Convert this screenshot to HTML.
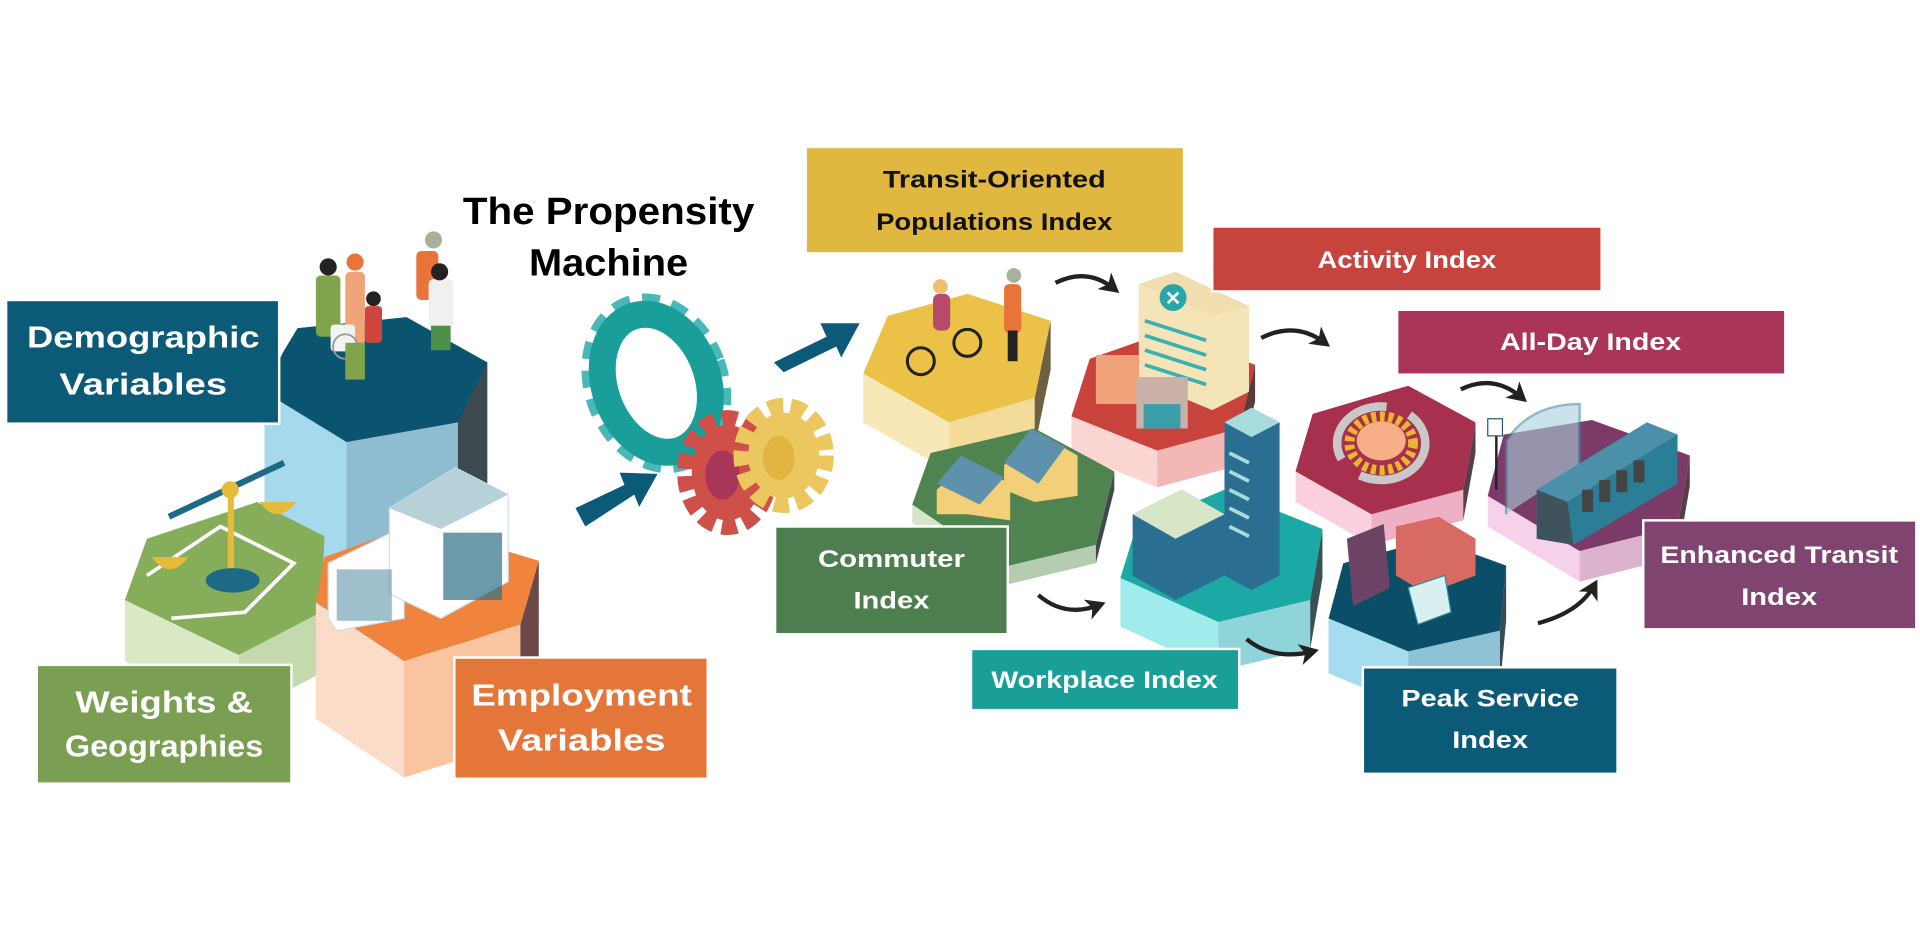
<!DOCTYPE html>
<html><head><meta charset="utf-8"><style>
html,body{margin:0;padding:0;background:#fff;width:1920px;height:933px;overflow:hidden}
svg{display:block}
text{font-family:"Liberation Sans",sans-serif;font-weight:bold}
.w{fill:#fff}
</style></head><body>
<svg width="1920" height="933" viewBox="0 0 1568 762" preserveAspectRatio="none" xmlns="http://www.w3.org/2000/svg">
<defs>
<marker id="ah" markerWidth="6" markerHeight="6" refX="3" refY="3" orient="auto" markerUnits="strokeWidth">
<path d="M0,0.5 L4.5,3 L0,5.5 L1.2,3 Z" fill="#222"/></marker>
</defs>

<!-- ===== LEFT GROUP ===== -->
<polygon points="216,288 283,300 283,530 216,520" fill="#a7d9ed"/>
<polygon points="283,300 374,300 374,530 283,530" fill="#8fbdd0"/>
<polygon points="374,300 398,296 398,520 374,530" fill="#3c4a50"/>
<polygon points="231,288 243,268 332,259 398,296 374,345 283,361 216,320" fill="#0b5470"/>
<!-- people -->
<rect x="258" y="225" width="20" height="50" rx="4" fill="#7fa44c"/>
<circle cx="268" cy="218" r="7" fill="#222"/>
<rect x="282" y="222" width="16" height="60" rx="4" fill="#f0a47a"/>
<circle cx="290" cy="214" r="7" fill="#e8743a"/>
<rect x="298" y="250" width="14" height="30" rx="3" fill="#cf443c"/>
<circle cx="305" cy="244" r="6" fill="#222"/>
<rect x="270" y="265" width="20" height="22" rx="3" fill="#f2f2f0"/>
<circle cx="282" cy="283" r="10" fill="none" stroke="#999" stroke-width="1.5"/>
<rect x="282" y="280" width="16" height="30" fill="#7fa44c"/>
<rect x="340" y="205" width="18" height="40" rx="4" fill="#e8743a"/>
<circle cx="354" cy="196" r="7" fill="#aab09a"/>
<rect x="350" y="228" width="20" height="40" rx="4" fill="#f0f0ee"/>
<circle cx="359" cy="222" r="7" fill="#222"/>
<rect x="352" y="266" width="16" height="20" fill="#4f8f4c"/>
<!-- Weights hex -->
<polygon points="102,490 195,535 195,585 102,540" fill="#d9e9c6"/>
<polygon points="195,535 262,500 262,550 195,585" fill="#c4d9ae"/>
<polygon points="102,490 120,440 210,410 265,438 262,500 195,535" fill="#85ad5a"/>
<path d="M120,470 L180,430 L240,460 L200,500 L140,505" fill="none" stroke="#fff" stroke-width="3"/>
<line x1="138" y1="422" x2="232" y2="378" stroke="#1d6a86" stroke-width="5"/>
<rect x="186" y="400" width="5" height="70" fill="#e6bb3c"/>
<circle cx="188" cy="400" r="7" fill="#e6bb3c"/>
<ellipse cx="190" cy="474" rx="22" ry="10" fill="#1d6a86"/>
<path d="M124,455 Q138,475 154,455 Z" fill="#e6bb3c"/>
<path d="M212,410 Q226,430 242,410 Z" fill="#e6bb3c"/>
<!-- Employment hex -->
<polygon points="258,492 330,540 330,635 258,587" fill="#fcdcc8"/>
<polygon points="330,540 425,510 425,605 330,635" fill="#fac4a0"/>
<polygon points="425,510 440,458 440,553 425,605" fill="#6b4a48"/>
<polygon points="258,492 265,455 340,428 440,458 425,510 330,540" fill="#f0843d"/>
<!-- office building -->
<polygon points="268,460 330,430 330,505 275,515 268,505" fill="#ffffff" stroke="#cfe0e6"/>
<polygon points="318,415 372,382 415,404 415,475 360,505 318,485" fill="#ffffff" stroke="#cfe0e6"/>
<polygon points="318,415 372,382 415,404 360,432" fill="#b7d1d9"/>
<rect x="362" y="435" width="48" height="55" fill="#2f6f87" opacity="0.7"/>
<rect x="275" y="465" width="45" height="42" fill="#5d94a8" opacity="0.6"/>

<!-- Title -->
<text x="497" y="183" font-size="31" text-anchor="middle" fill="#000" textLength="238" lengthAdjust="spacingAndGlyphs">The Propensity</text>
<text x="497" y="225" font-size="31" text-anchor="middle" fill="#000" textLength="130" lengthAdjust="spacingAndGlyphs">Machine</text>

<!-- Gears -->
<g transform="rotate(-20 536 313)">
<ellipse cx="536" cy="313" rx="50" ry="66" fill="none" stroke="#4ab8b8" stroke-width="18" stroke-dasharray="13 9"/>
<ellipse cx="536" cy="313" rx="42" ry="58" fill="none" stroke="#1a9e9a" stroke-width="22"/>
<ellipse cx="532" cy="313" rx="18" ry="36" fill="#fff"/>
</g>
<ellipse cx="594" cy="386" rx="34" ry="44" fill="none" stroke="#cf5048" stroke-width="14" stroke-dasharray="12 6"/>
<ellipse cx="594" cy="386" rx="29" ry="39" fill="#cf5048"/>
<ellipse cx="590" cy="388" rx="14" ry="20" fill="#a8365a"/>
<ellipse cx="640" cy="372" rx="34" ry="40" fill="none" stroke="#ecc760" stroke-width="14" stroke-dasharray="12 6"/>
<ellipse cx="640" cy="372" rx="29" ry="35" fill="#ecc760"/>
<ellipse cx="636" cy="374" rx="13" ry="18" fill="#e2b440"/>

<!-- Block arrows -->
<g fill="#0b5a78">
<polygon points="470,415 510,396 506,386 537,387 522,414 518,404 478,430"/>
<polygon points="632,296 675,275 670,264 702,264 687,292 683,283 640,304"/>
</g>

<!-- ===== RIGHT HEXES ===== -->
<polygon points="705,305 775,345 775,385 705,345" fill="#f8e8b8"/>
<polygon points="775,345 845,325 845,365 775,385" fill="#f3dc9a"/>
<polygon points="845,325 858,262 858,302 845,365" fill="#6e6040"/>
<polygon points="705,305 725,258 790,240 858,262 845,325 775,345" fill="#ecc148"/>
<circle cx="752" cy="295" r="11" fill="none" stroke="#222" stroke-width="2.5"/>
<circle cx="790" cy="280" r="11" fill="none" stroke="#222" stroke-width="2.5"/>
<rect x="762" y="240" width="14" height="30" rx="5" fill="#b74a6a"/>
<circle cx="768" cy="234" r="6" fill="#eec070"/>
<rect x="820" y="232" width="14" height="40" rx="4" fill="#e8743a"/>
<circle cx="828" cy="225" r="6" fill="#aab09a"/>
<rect x="823" y="270" width="8" height="25" fill="#222"/>
<!-- red -->
<polygon points="875,340 945,368 945,398 875,370" fill="#fbd5d2"/>
<polygon points="945,368 1012,350 1012,380 945,398" fill="#f3b8b5"/>
<polygon points="1012,350 1025,298 1025,328 1012,380" fill="#5a3a3a"/>
<polygon points="875,340 890,293 955,270 1025,298 1012,350 945,368" fill="#c8433c"/>
<polygon points="930,232 960,222 1020,250 1020,320 990,335 930,310" fill="#f5e4b8"/>
<polygon points="930,232 960,222 1020,250 990,258" fill="#f0deb0"/>
<g stroke="#3ab0b0" stroke-width="3"><line x1="935" y1="262" x2="985" y2="278"/><line x1="935" y1="274" x2="985" y2="290"/><line x1="935" y1="286" x2="985" y2="302"/><line x1="935" y1="298" x2="985" y2="314"/></g>
<circle cx="958" cy="243" r="11" fill="#2aa6a6"/>
<text x="958" y="249" font-size="16" fill="#fff" text-anchor="middle">✕</text>
<rect x="895" y="290" width="35" height="40" fill="#f0a27a"/>
<rect x="928" y="308" width="42" height="42" fill="#c9b0a8"/>
<rect x="934" y="330" width="30" height="20" fill="#3a9fa8"/>
<!-- maroon -->
<polygon points="1058,385 1120,420 1120,445 1058,410" fill="#fbd0de"/>
<polygon points="1120,420 1195,400 1195,425 1120,445" fill="#eeb0c4"/>
<polygon points="1195,400 1205,345 1205,370 1195,425" fill="#55404a"/>
<polygon points="1058,385 1072,338 1150,315 1205,345 1195,400 1120,420" fill="#a8304f"/>
<ellipse cx="1128" cy="362" rx="36" ry="30" fill="none" stroke="#c8c8c8" stroke-width="7" stroke-dasharray="70 20"/>
<ellipse cx="1128" cy="362" rx="26" ry="22" fill="none" stroke="#e8b830" stroke-width="8" stroke-dasharray="4 3"/>
<ellipse cx="1128" cy="360" rx="20" ry="16" fill="#f8ae86"/>
<!-- purple -->
<polygon points="1215,405 1290,450 1290,475 1215,430" fill="#f5d2ea"/>
<polygon points="1290,450 1370,430 1370,455 1290,475" fill="#dcb2cc"/>
<polygon points="1370,430 1380,372 1380,397 1370,455" fill="#55404a"/>
<polygon points="1215,405 1228,355 1300,343 1380,372 1370,430 1290,450" fill="#7b3a67"/>
<path d="M1230,420 L1230,360 Q1250,330 1290,330 L1290,380" fill="#a8d0dc" opacity="0.6" stroke="#4a8aa0" stroke-width="2"/>
<line x1="1222" y1="355" x2="1222" y2="400" stroke="#222" stroke-width="2"/>
<rect x="1215" y="342" width="12" height="14" fill="#fff" stroke="#2a5a70"/>
<polygon points="1255,400 1345,345 1370,355 1370,395 1285,445 1255,440" fill="#2a7e96"/>
<polygon points="1255,400 1345,345 1370,355 1280,410" fill="#4a90a8"/>
<polygon points="1255,400 1280,410 1285,445 1255,440" fill="#40525c"/>
<g fill="#444"><rect x="1292" y="400" width="9" height="18"/><rect x="1306" y="392" width="9" height="18"/><rect x="1320" y="384" width="9" height="18"/><rect x="1334" y="376" width="9" height="18"/></g>
<!-- green commuter -->
<polygon points="745,412 820,463 820,478 745,427" fill="#d5e5cc"/>
<polygon points="820,463 895,445 895,460 820,478" fill="#b5ccb0"/>
<polygon points="895,445 910,385 910,400 895,460" fill="#44484a"/>
<polygon points="745,412 760,370 845,350 910,385 895,445 820,463" fill="#4f8350"/>
<polygon points="765,400 790,378 825,395 825,425 790,420 765,420" fill="#f2cf78"/>
<polygon points="765,395 785,372 820,390 800,412" fill="#5e92ac"/>
<polygon points="820,380 845,352 880,372 880,405 845,410 820,400" fill="#f2cf78"/>
<polygon points="820,378 842,350 870,365 848,395" fill="#5e92ac"/>
<!-- teal workplace -->
<polygon points="915,472 995,508 995,548 915,512" fill="#a0ecec"/>
<polygon points="995,508 1070,490 1070,530 995,548" fill="#8ed4d8"/>
<polygon points="1070,490 1080,432 1080,472 1070,530" fill="#3a5054"/>
<polygon points="915,472 928,430 1000,400 1080,432 1070,490 995,508" fill="#1ca8a4"/>
<polygon points="925,420 965,400 1000,420 1000,470 960,490 925,470" fill="#2a6f92"/>
<polygon points="925,420 965,400 1000,420 960,440" fill="#d8e6c8"/>
<polygon points="1000,345 1022,333 1045,345 1045,470 1022,482 1000,470" fill="#2a6f92"/>
<polygon points="1000,345 1022,333 1045,345 1022,357" fill="#a8dcdc"/>
<g stroke="#a8dcdc" stroke-width="3"><line x1="1004" y1="370" x2="1020" y2="378"/><line x1="1004" y1="385" x2="1020" y2="393"/><line x1="1004" y1="400" x2="1020" y2="408"/><line x1="1004" y1="415" x2="1020" y2="423"/><line x1="1004" y1="430" x2="1020" y2="438"/></g>
<!-- peak -->
<polygon points="1085,505 1150,532 1150,577 1085,550" fill="#a6dcef"/>
<polygon points="1150,532 1225,515 1225,560 1150,577" fill="#8ec2d6"/>
<polygon points="1225,515 1230,462 1230,507 1225,560" fill="#3a4a50"/>
<polygon points="1085,505 1097,460 1170,440 1230,462 1225,515 1150,532" fill="#0b4e68"/>
<polygon points="1100,440 1130,428 1135,480 1105,495" fill="#6e4466"/>
<polygon points="1140,430 1175,422 1205,440 1205,470 1165,485 1140,470" fill="#d86a64"/>
<polygon points="1150,480 1180,470 1185,500 1158,510" fill="#d8f0f0" stroke="#2a8a9a"/>

<!-- curved black arrows -->
<g fill="none" stroke="#222" stroke-width="3.5" marker-end="url(#ah)">
<path d="M862,231 Q888,218 910,236"/>
<path d="M1030,276 Q1058,262 1082,280"/>
<path d="M1193,318 Q1220,305 1243,325"/>
<path d="M848,486 Q870,505 898,494"/>
<path d="M1018,522 Q1040,540 1072,532"/>
<path d="M1256,509 Q1290,500 1302,478"/>
</g>

<!-- ===== LABEL BOXES ===== -->
<g stroke="#fff" stroke-width="2">
<rect x="5" y="245" width="223" height="101" fill="#0b5a78"/>
<rect x="30" y="543" width="208" height="97" fill="#7a9e52"/>
<rect x="371" y="537" width="207" height="99" fill="#e5763a"/>
<rect x="658" y="120" width="309" height="87" fill="#e0b840"/>
<rect x="990" y="185" width="318" height="53" fill="#c6433e"/>
<rect x="1141" y="253" width="317" height="53" fill="#ab3558"/>
<rect x="633" y="430" width="190" height="88" fill="#4e7d50"/>
<rect x="793" y="530" width="219" height="50" fill="#1a9e98"/>
<rect x="1113" y="545" width="208" height="87" fill="#0b5a78"/>
<rect x="1342" y="425" width="223" height="89" fill="#7f4570"/>
</g>
<g font-size="25" text-anchor="middle" class="w">
<text x="117" y="284" textLength="190" lengthAdjust="spacingAndGlyphs">Demographic</text>
<text x="117" y="322" textLength="137" lengthAdjust="spacingAndGlyphs">Variables</text>
<text x="134" y="582" textLength="145" lengthAdjust="spacingAndGlyphs">Weights &amp;</text>
<text x="134" y="618" textLength="162" lengthAdjust="spacingAndGlyphs">Geographies</text>
<text x="475" y="576" textLength="180" lengthAdjust="spacingAndGlyphs">Employment</text>
<text x="475" y="613" textLength="137" lengthAdjust="spacingAndGlyphs">Variables</text>
</g>
<g font-size="20" text-anchor="middle">
<text x="812" y="153" fill="#111" textLength="182" lengthAdjust="spacingAndGlyphs">Transit-Oriented</text>
<text x="812" y="188" fill="#111" textLength="193" lengthAdjust="spacingAndGlyphs">Populations Index</text>
<text x="1149" y="219" class="w" textLength="146" lengthAdjust="spacingAndGlyphs">Activity Index</text>
<text x="1299" y="286" class="w" textLength="148" lengthAdjust="spacingAndGlyphs">All-Day Index</text>
<text x="728" y="463" class="w" textLength="120" lengthAdjust="spacingAndGlyphs">Commuter</text>
<text x="728" y="497" class="w" textLength="62" lengthAdjust="spacingAndGlyphs">Index</text>
<text x="902" y="562" class="w" textLength="185" lengthAdjust="spacingAndGlyphs">Workplace Index</text>
<text x="1217" y="577" class="w" textLength="145" lengthAdjust="spacingAndGlyphs">Peak Service</text>
<text x="1217" y="611" class="w" textLength="62" lengthAdjust="spacingAndGlyphs">Index</text>
<text x="1453" y="460" class="w" textLength="194" lengthAdjust="spacingAndGlyphs">Enhanced Transit</text>
<text x="1453" y="494" class="w" textLength="62" lengthAdjust="spacingAndGlyphs">Index</text>
</g>
</svg>
</body></html>
